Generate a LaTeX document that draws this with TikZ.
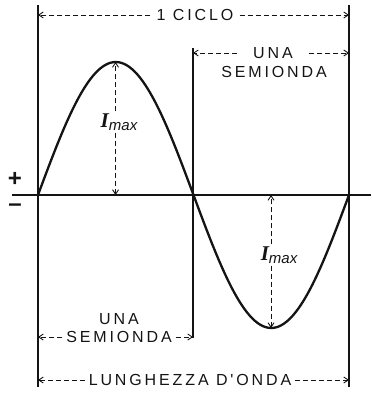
\documentclass[tikz,border=0pt]{standalone}
\usepackage{fontspec}
\setmainfont{Liberation Sans}
\newfontfamily\capsfont{Liberation Sans}[LetterSpace=18]
\newfontfamily\imaxfont{Liberation Serif}
\usetikzlibrary{arrows.meta,positioning,calc}
\definecolor{inkBlack}{RGB}{20, 20, 20}
\newcommand{\imaxlabel}{{\fontsize{21pt}{21pt}\selectfont\imaxfont\bfseries\itshape I}\raisebox{-3pt}{\fontsize{15pt}{15pt}\selectfont\itshape max}}

\begin{document}
\begin{tikzpicture}[x=1pt, y=-1pt,
        capslabel/.style={text=inkBlack, inner sep=0pt, font=\capsfont\fontsize{16pt}{19pt}\selectfont},
        imaxtext/.style={text=inkBlack, inner sep=2pt},
        signtext/.style={text=inkBlack, inner sep=0pt, font=\fontsize{24pt}{24pt}\selectfont\bfseries},
        dimarrow/.style={draw=inkBlack, line width=0.9pt, dash pattern=on 5pt off 3pt, -{Straight Barb[length=4.5pt,width=6pt]}},
        guideline/.style={draw=inkBlack, line width=1.2pt},
        wave/.style={draw=inkBlack, line width=2.3pt}]
    \useasboundingbox (0,0) rectangle (371,395);
    % axis points of the wave
    \coordinate (start) at (38,195);
    \coordinate (half) at (193,195);
    \coordinate (finish) at (349,195);
    \coordinate (peak) at (115.5,62);
    \coordinate (trough) at (271,328);
    \coordinate (topA) at (0,5);
    \coordinate (topB) at (0,48);
    \coordinate (botA) at (0,387);
    \coordinate (botB) at (0,338);
    \coordinate (axisL) at (12,195);
    \coordinate (axisR) at (371,195);

    % guide lines and axis
    \draw[guideline] (start |- topA) -- (start |- botA);
    \draw[guideline] (finish |- topA) -- (finish |- botA);
    \draw[guideline] (half |- topB) -- (half |- botB);
    \draw[inkBlack, line width=1.3pt] (axisL) -- (axisR);
    \draw[wave] plot[domain=38:349, samples=120, smooth] (\x, {195-133*sin((\x-38)/155.5*180)});

    \node[signtext] (plus) at (15,179) {+};
    \node[signtext] (minus) at (15,208) {\textendash};

    % labels
    \node[capslabel, inner xsep=6pt] (ciclo) at (195,15) {1 CICLO};
    \node[capslabel, inner xsep=16pt] (unaTop) at (273,53) {UNA};
    \node[capslabel] (semTop) at (274,72) {SEMIONDA};
    \node[capslabel] (unaBot) at (119,319) {UNA};
    \node[capslabel, inner xsep=4pt] (semBot) at (119,337) {SEMIONDA};
    \node[capslabel, inner xsep=4pt] (lung) at (190,380) {LUNGHEZZA D'ONDA};
    \node[imaxtext] (imaxTop) at (119,122) {\imaxlabel};
    \node[imaxtext] (imaxBot) at (279,255) {\imaxlabel};

    % dimension arrows
    \draw[dimarrow] (ciclo.west) -- (ciclo.west -| start);
    \draw[dimarrow] (ciclo.east) -- (ciclo.east -| finish);
    \draw[dimarrow] (unaTop.west) -- (unaTop.west -| half);
    \draw[dimarrow] (unaTop.east) -- (unaTop.east -| finish);
    \draw[dimarrow] (semBot.west) -- (semBot.west -| start);
    \draw[dimarrow] (semBot.east) -- (semBot.east -| half);
    \draw[dimarrow] (lung.west) -- (lung.west -| start);
    \draw[dimarrow] (lung.east) -- (lung.east -| finish);
    \draw[dimarrow] (peak |- imaxTop.north) -- (peak);
    \draw[dimarrow] (peak |- imaxTop.south) -- (peak |- start);
    \draw[dimarrow] (trough |- imaxBot.north) -- (trough |- start);
    \draw[dimarrow] (trough |- imaxBot.south) -- (trough);
\end{tikzpicture}
\end{document}
